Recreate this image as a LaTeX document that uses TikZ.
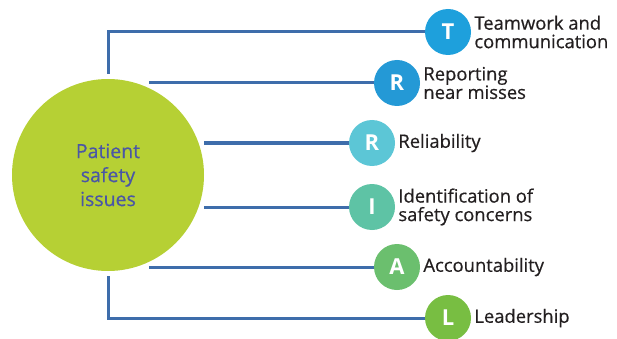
\documentclass[tikz,border=0pt]{standalone}
\usepackage{fontspec}
\setmainfont{Open Sans}
\newfontfamily\labelFont[FakeBold=0.5]{Open Sans}
\usepackage{xcolor}
\usetikzlibrary{positioning}
\newcommand{\pillarNode}[6]{
	\definecolor{tmpColor}{HTML}{#3}
	\node[pillar, fill = tmpColor] (#1) at (#4, #5) {#2};
	\node[pillarText, right = 1pt of #1] (#1Text) {#6};
}
\definecolor{issueGreen}{HTML}{B6D034}
\definecolor{issueText}{HTML}{4A56A6}
\definecolor{linkBlue}{HTML}{3E6DAB}
\definecolor{labelGray}{HTML}{231F20}
\tikzset{
	pillar/.style = {circle, minimum size = 46pt, inner sep = 0pt, text = white, font = \fontsize{22}{22}\bfseries\selectfont},
	pillarText/.style = {align = left, inner sep = 2pt, text = labelGray, font = \labelFont\fontsize{18.4}{18.5}\selectfont},
	link/.style = {draw = linkBlue, line width = 3pt}
}

\begin{document}
\begin{tikzpicture}[x = 1pt, y = -1pt]%

		\useasboundingbox (0, 0) rectangle (617, 339);

		% centre
		\node[circle, fill = issueGreen, minimum size = 192pt, inner sep = 0pt, outer sep = 5pt,
			align = center, text = issueText, font = \labelFont\fontsize{19.5}{24}\selectfont] (issues) at (108, 175) {Patient\\safety\\issues};

		% pillars
		\pillarNode{team}{T}{1EA0DC}{448}{32}{Teamwork and\\communication}
		\pillarNode{report}{R}{2499D6}{397}{83}{Reporting\\near misses}
		\pillarNode{reliable}{R}{5CC6D6}{372}{143}{Reliability}
		\pillarNode{ident}{I}{5EC3A5}{372}{207}{Identification of\\safety concerns}
		\pillarNode{account}{A}{6BBF6E}{397}{267}{Accountability}
		\pillarNode{lead}{L}{78BE42}{448}{318}{Leadership}

		% links
		\draw[link] (issues.north) -- (issues.north |- team) -- (team.west);
		\draw[link] (report.west -| issues.66.7) -- (report.west);
		\draw[link] (reliable.west -| issues.18.8) -- (reliable.west);
		\draw[link] (ident.west -| issues.-18.8) -- (ident.west);
		\draw[link] (account.west -| issues.-66.7) -- (account.west);
		\draw[link] (issues.south) -- (issues.south |- lead) -- (lead.west);

	\end{tikzpicture}
\end{document}
